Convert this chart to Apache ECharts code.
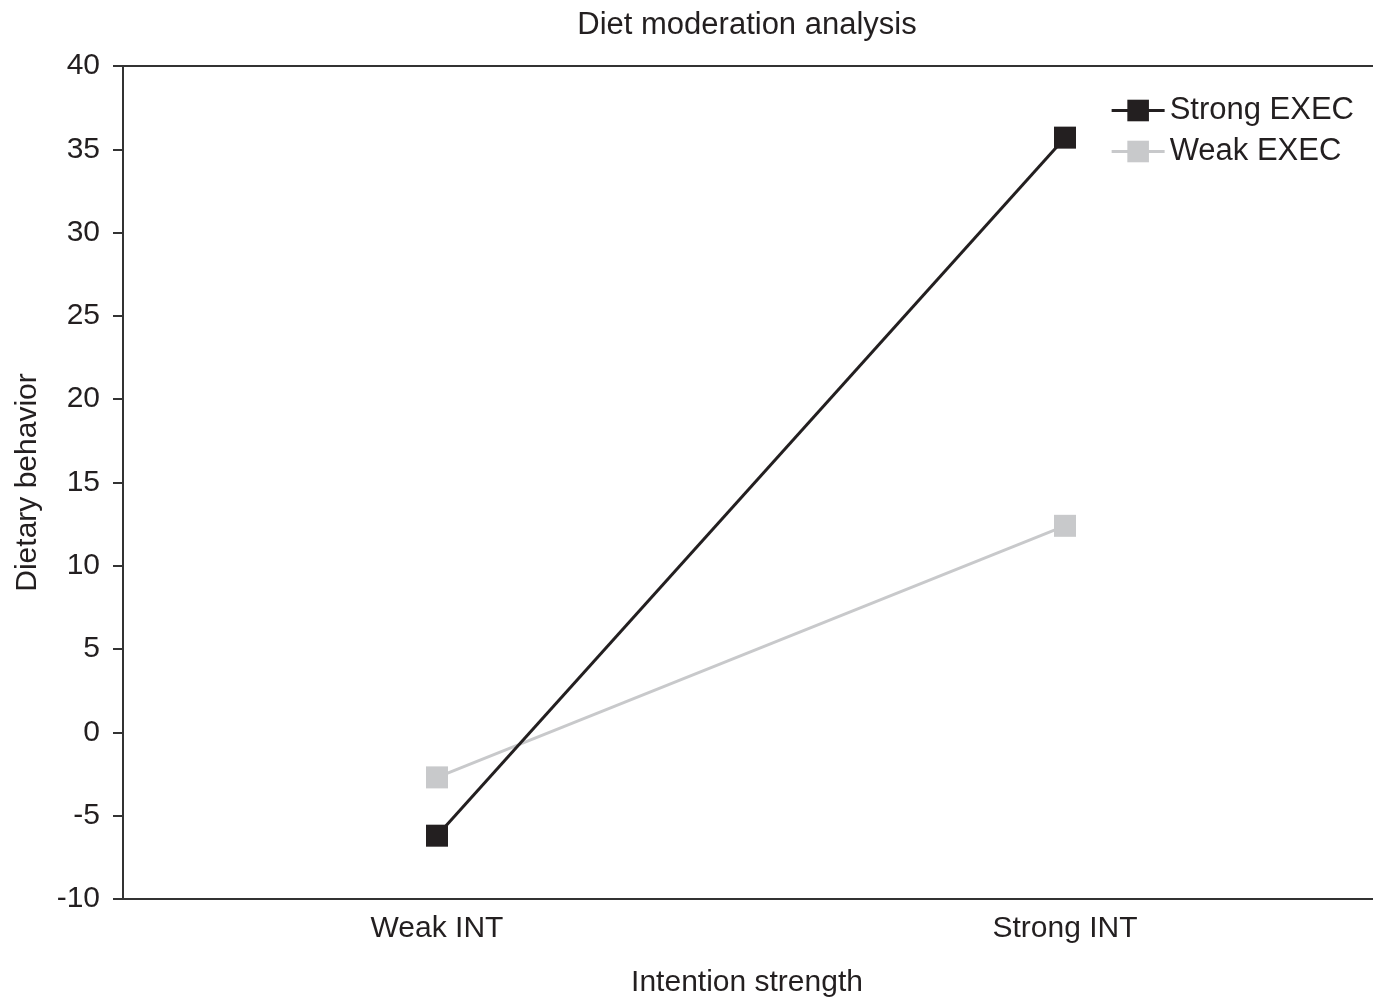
<!DOCTYPE html>
<html>
<head>
<meta charset="utf-8">
<style>
  html, body { margin: 0; padding: 0; background: #ffffff; }
  #chart { width: 1373px; height: 999px; }
</style>
<script src="https://cdn.jsdelivr.net/npm/echarts@6/dist/echarts.min.js"></script>
</head>
<body>
<div id="chart"></div>
<script>
// Intention strength levels on the x axis
const categories = ['Weak INT', 'Strong INT'];
// Dietary behavior by executive-function level
const strongExec = [-6.2, 35.7];
const weakExec = [-2.7, 12.4];
const seriesNames = ['Strong EXEC', 'Weak EXEC'];

const FONT = '"Liberation Sans", Arial, sans-serif';
const INK = '#231f20';
const GREY = '#c8c9cb';

const chart = echarts.init(document.getElementById('chart'), null, { renderer: 'canvas' });

chart.setOption({
  animation: false,
  backgroundColor: '#ffffff',
  textStyle: { fontFamily: FONT, color: INK },
  title: {
    text: 'Diet moderation analysis',
    left: 742,
    textAlign: 'center',
    top: 5,
    textStyle: { fontFamily: FONT, fontSize: 31, fontWeight: 'normal', color: INK }
  },
  legend: {
    right: 14,
    top: 90,
    orient: 'vertical',
    align: 'left',
    itemWidth: 53,
    itemHeight: 27,
    itemGap: 10,
    data: seriesNames,
    lineStyle: { width: 3 },
    textStyle: { fontFamily: FONT, fontSize: 31, color: INK, lineHeight: 30 }
  },
  grid: { left: 123, width: 1256, top: 66, bottom: 100, outerBoundsMode: 'none', containLabel: false },
  xAxis: [
    {
      type: 'category',
      data: categories,
      boundaryGap: true,
      name: 'Intention strength',
      nameLocation: 'middle',
      nameGap: 69,
      nameTextStyle: { fontFamily: FONT, fontSize: 30, color: INK, padding: [0, 8, 0, 0] },
      axisLine: { show: true, onZero: false, lineStyle: { color: '#333333', width: 2 } },
      axisTick: { show: false },
      axisLabel: { margin: 15, fontFamily: FONT, fontSize: 30, color: INK },
      splitLine: { show: false }
    },
    {
      // upper frame line of the plot box
      type: 'value',
      position: 'top',
      min: 0,
      max: 1,
      axisLine: { show: true, onZero: false, lineStyle: { color: '#333333', width: 2 } },
      axisTick: { show: false },
      axisLabel: { show: false },
      splitLine: { show: false }
    }
  ],
  yAxis: {
    type: 'value',
    min: -10,
    max: 40,
    interval: 5,
    name: 'Dietary behavior',
    nameLocation: 'middle',
    nameGap: 80,
    nameTextStyle: { fontFamily: FONT, fontSize: 30, color: INK },
    axisLine: { show: true, onZero: false, lineStyle: { color: '#333333', width: 2 } },
    axisTick: { show: true, inside: false, length: 10, lineStyle: { color: '#333333', width: 2 } },
    axisLabel: { margin: 23, fontFamily: FONT, fontSize: 30, color: INK },
    splitLine: { show: false }
  },
  series: [
    {
      name: seriesNames[0],
      type: 'line',
      xAxisIndex: 0,
      data: strongExec,
      symbol: 'rect',
      symbolSize: 22,
      itemStyle: { color: INK },
      lineStyle: { color: INK, width: 3 },
      z: 3
    },
    {
      name: seriesNames[1],
      type: 'line',
      xAxisIndex: 0,
      data: weakExec,
      symbol: 'rect',
      symbolSize: 22,
      itemStyle: { color: GREY },
      lineStyle: { color: GREY, width: 3 },
      z: 2
    }
  ]
});
</script>
</body>
</html>
